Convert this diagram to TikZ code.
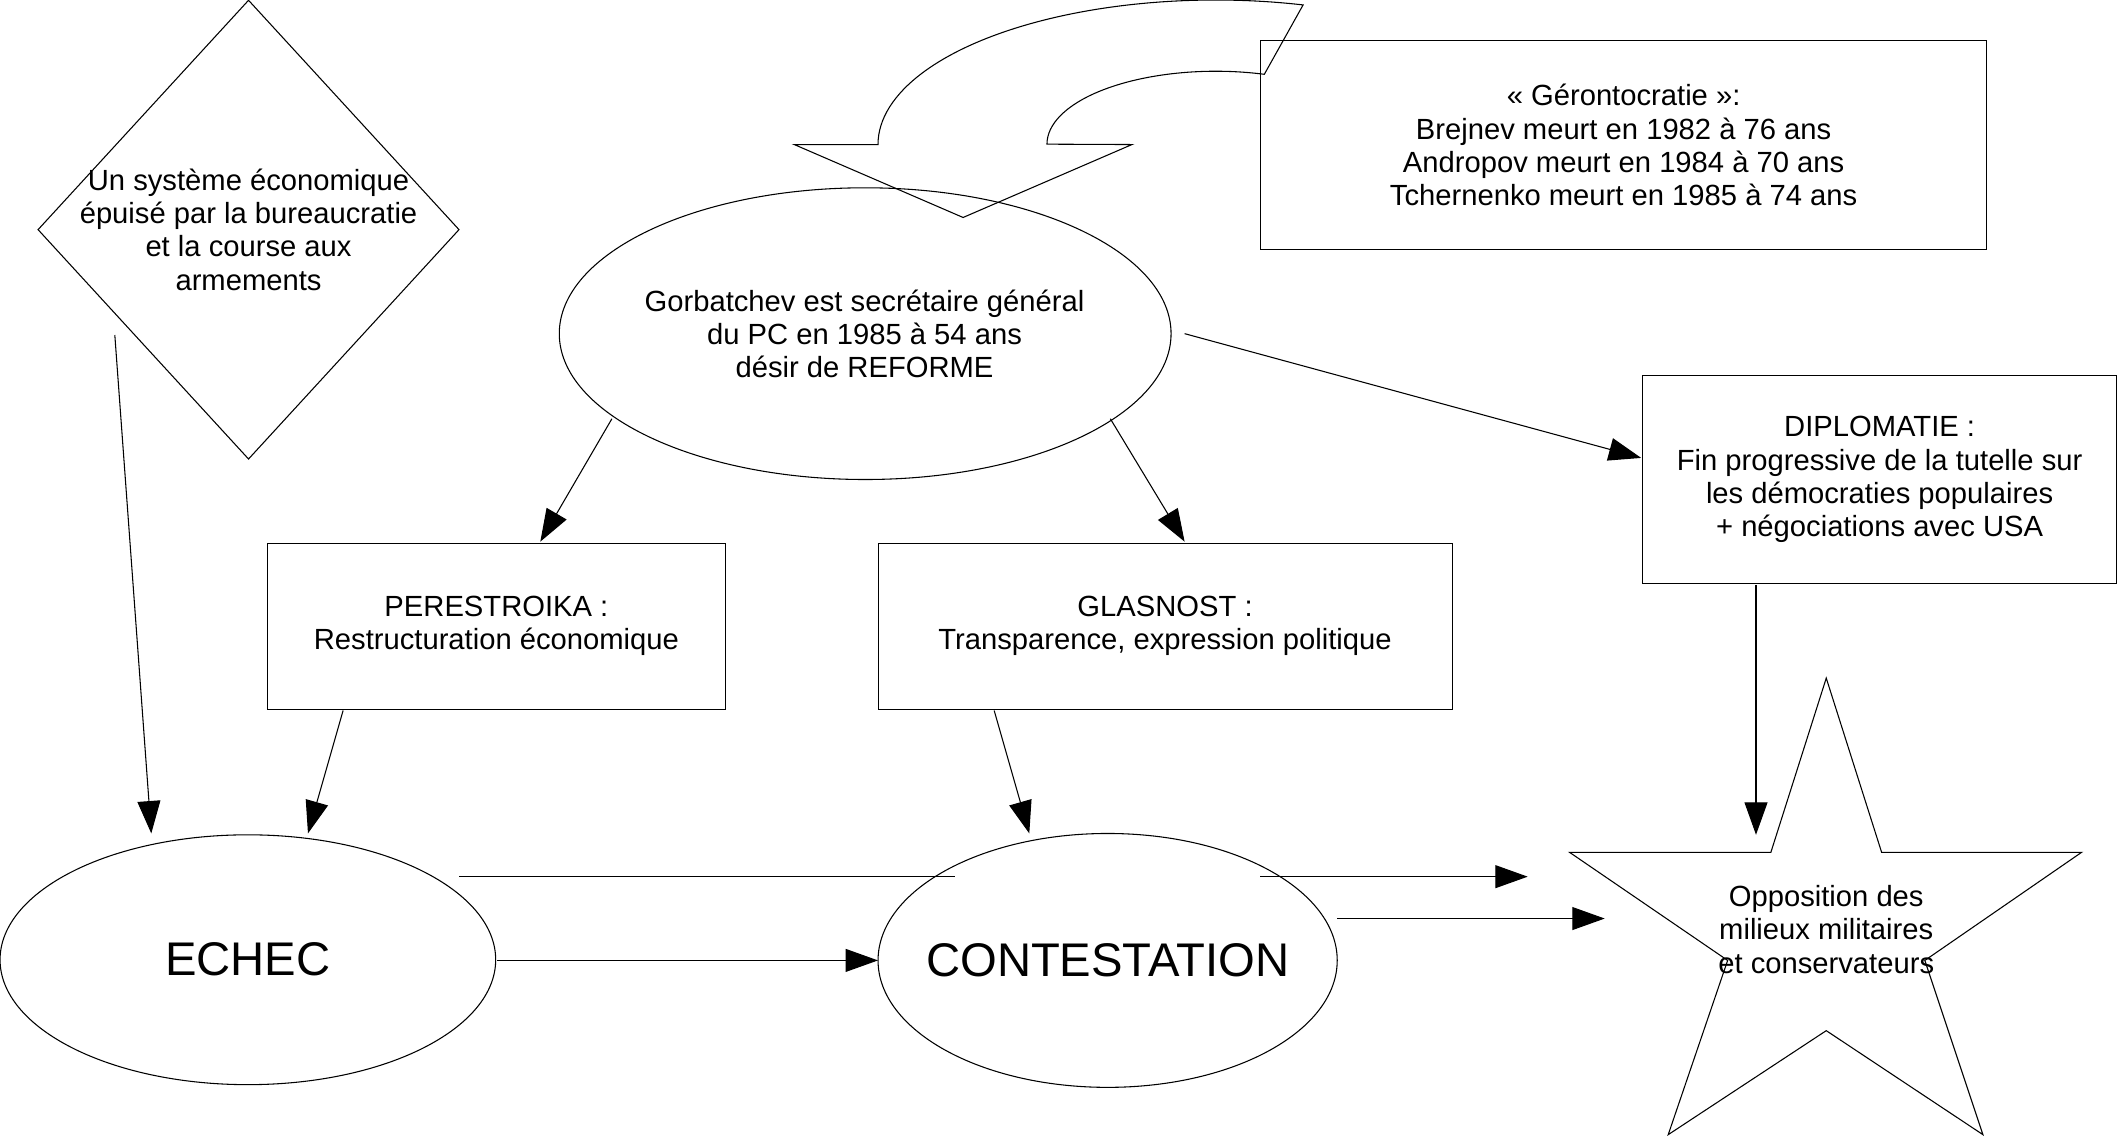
\documentclass[tikz,border=0pt]{standalone}
\usepackage{fontspec}
\setmainfont{Liberation Sans}
\usetikzlibrary{shapes.geometric,arrows.meta}
\begin{document}
\begin{tikzpicture}[x=0.02cm,y=-0.02cm, line width=0.45pt,
  txt/.style={font=\fontsize{12.3}{14}\selectfont, align=center, inner sep=0pt},
  big/.style={font=\fontsize{19.9}{23}\selectfont, inner sep=0pt},
  box/.style={draw, rectangle, inner sep=0pt, txt},
  ell/.style={draw, ellipse, inner sep=0pt},
  conn/.style={-{Triangle[length=0.48cm,width=0.34cm]}},
]
\useasboundingbox (0,0) rectangle (1568,843);

% shapes
\node[draw, diamond, inner sep=0pt, minimum width=6.24cm, minimum height=6.8cm] (diam) at (184,170) {};
\node[txt] (diamtxt) at (184,170) {Un système économique\\épuisé par la bureaucratie\\et la course aux\\armements};

\node[ell, minimum width=9.06cm, minimum height=4.32cm] (gorb) at (640.5,247) {};
\node[txt] (gorbtxt) at (640,247) {Gorbatchev est secrétaire général\\du PC en 1985 à 54 ans\\désir de REFORME};

\node[box, minimum width=10.76cm, minimum height=3.1cm] (geron) at (1202,107.5) {« Gérontocratie »:\\Brejnev meurt en 1982 à 76 ans\\Andropov meurt en 1984 à 70 ans\\Tchernenko meurt en 1985 à 74 ans};

\node[box, minimum width=6.78cm, minimum height=2.46cm] (pere) at (367.5,463.5) {PERESTROIKA :\\Restructuration économique};
\node[box, minimum width=8.5cm, minimum height=2.46cm] (glas) at (862.5,463.5) {GLASNOST :\\Transparence, expression politique};
\node[box, minimum width=7.02cm, minimum height=3.08cm] (diplo) at (1391.5,355) {DIPLOMATIE :\\Fin progressive de la tutelle sur\\les démocraties populaires\\+ négociations avec USA};

\node[ell, minimum width=7.34cm, minimum height=3.7cm] (echec) at (183.5,710.5) {};
\node[big] (echectxt) at (183.5,710.5) {ECHEC};
\node[ell, minimum width=6.8cm, minimum height=3.76cm] (cont) at (820,711) {};
\node[big] (conttxt) at (820,711) {CONTESTATION};

% star
\draw (1352,502) -- (1393,631) -- (1541,631) -- (1425,711) -- (1468,840) -- (1352,763)
  -- (1235,840) -- (1279,711) -- (1162,631) -- (1311,631) -- cycle;
\node[txt] (star) at (1352,688) {Opposition des\\milieux militaires\\et conservateurs};

% curved block arrow
\draw (588,107) -- (650,107)
  arc[start angle=180, end angle=285, x radius=250, y radius=107]
  -- (936,55)
  arc[start angle=286.7, end angle=180, x radius=125, y radius=54]
  -- (838,107) -- (713,161) -- cycle;

% connector end points
\coordinate (d1) at (85,248);   \coordinate (e1) at (112,617);
\coordinate (g1) at (453,310);  \coordinate (p1) at (400,401);
\coordinate (g2) at (822,310);  \coordinate (s1) at (877,401);
\coordinate (g3) at (877,247);  \coordinate (dp1) at (1215,339);
\coordinate (p2) at (254,526);  \coordinate (e2) at (228,617);
\coordinate (s2) at (736,526);  \coordinate (c1) at (762,617);
\coordinate (dp2) at (1300,433); \coordinate (st1) at (1300,618);
\coordinate (e3) at (368,711);  \coordinate (c2) at (650,711);
\coordinate (e4) at (340,649);  \coordinate (c3) at (707,649);
\coordinate (c4) at (933,649);  \coordinate (st2) at (1131,649);
\coordinate (c5) at (990,680);  \coordinate (st3) at (1188,680);

\draw[conn] (d1) -- (e1);
\draw[conn] (g1) -- (p1);
\draw[conn] (g2) -- (s1);
\draw[conn] (g3) -- (dp1);
\draw[conn] (p2) -- (e2);
\draw[conn] (s2) -- (c1);
\draw[conn] (dp2) -- (st1);
\draw[conn] (e3) -- (c2);
\draw (e4) -- (c3);
\draw[conn] (c4) -- (st2);
\draw[conn] (c5) -- (st3);
\end{tikzpicture}
\end{document}
